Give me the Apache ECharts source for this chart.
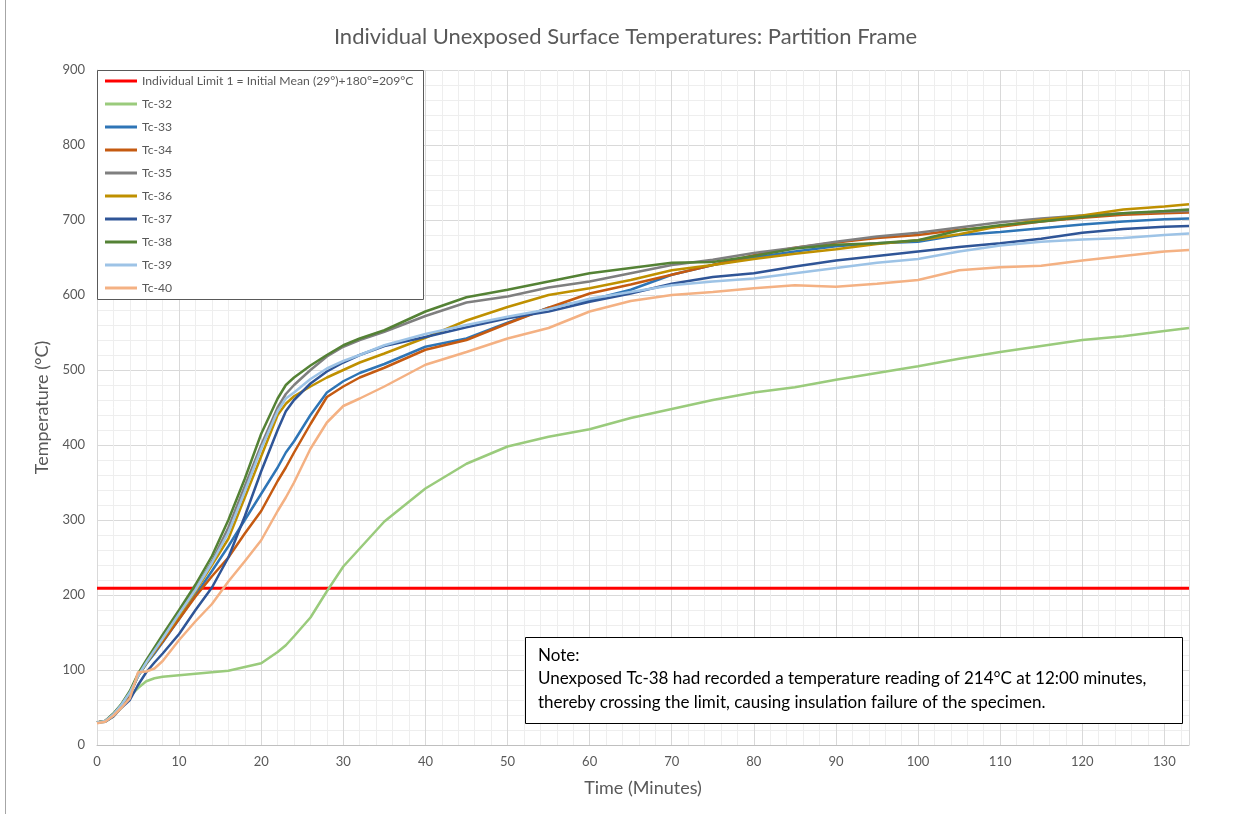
<!DOCTYPE html>
<html lang="en">
<head>
    <meta charset="UTF-8">
    <title>Individual Unexposed Surface Temperatures: Partition Frame</title>
    <script src="https://cdn.jsdelivr.net/npm/echarts@6/dist/echarts.min.js"></script>
    <style>
        html, body { margin: 0; padding: 0; background: #fff; }
        #main { width: 1251px; height: 814px; }
    </style>
</head>
<body>
<div id="main"></div>

<script>
    // time axis (minutes) shared by all thermocouples
    var times = [0, 1, 2, 3, 4, 5, 6, 7, 8, 10, 12, 14, 16, 18, 20, 22, 23, 24, 26, 28, 30, 32, 35,
        40, 45, 50, 55, 60, 65, 70, 75, 80, 85, 90, 95, 100, 105, 110, 115, 120, 125, 130, 133];

    // limit line
    var limitTimes = [0, 133];
    var limitValues = [209, 209];

    var tc32 = [30, 31, 38, 50, 65, 76, 85, 89, 91, 93, 95, 97, 99, 104, 109, 124, 133, 145, 170, 205, 238, 262, 298,
        342, 375, 398, 411, 421, 436, 448, 460, 470, 477, 487, 496, 505, 515, 524, 532, 540, 545, 552, 556];
    var tc33 = [30, 32, 40, 52, 67, 92, 108, 122, 137, 168, 200, 232, 265, 300, 335, 370, 390, 405, 440, 470, 485, 496, 508,
        531, 542, 563, 583, 593, 607, 627, 640, 650, 658, 665, 669, 671, 680, 684, 689, 694, 698, 701, 702];
    var tc34 = [30, 32, 41, 53, 68, 93, 110, 124, 138, 168, 198, 225, 250, 282, 312, 352, 370, 390, 428, 464, 478, 490, 503,
        527, 540, 562, 583, 602, 614, 627, 640, 653, 663, 670, 676, 680, 687, 691, 698, 703, 707, 709, 710];
    var tc35 = [30, 32, 41, 54, 70, 92, 110, 127, 143, 176, 208, 245, 290, 345, 400, 450, 468, 480, 500, 518, 531, 540, 551,
        572, 590, 598, 610, 618, 629, 640, 647, 656, 663, 671, 678, 683, 690, 697, 702, 706, 709, 711, 712];
    var tc36 = [30, 32, 41, 54, 70, 92, 109, 125, 141, 173, 205, 240, 275, 330, 385, 440, 455, 465, 478, 490, 500, 510, 522,
        543, 566, 584, 600, 609, 620, 633, 640, 648, 655, 661, 668, 673, 681, 692, 700, 706, 714, 718, 721];
    var tc37 = [30, 31, 38, 50, 60, 80, 97, 110, 122, 148, 180, 210, 250, 305, 365, 420, 445, 460, 482, 498, 510, 520, 532,
        544, 557, 569, 578, 591, 602, 615, 624, 629, 638, 646, 652, 658, 664, 669, 675, 683, 688, 691, 692];
    var tc38 = [30, 32, 42, 55, 72, 95, 113, 130, 147, 180, 214, 252, 300, 355, 415, 462, 480, 490, 506, 520, 533, 542, 553,
        578, 597, 607, 618, 629, 636, 643, 644, 652, 662, 667, 669, 673, 686, 693, 698, 704, 709, 712, 714];
    var tc39 = [30, 32, 41, 54, 70, 92, 110, 126, 142, 175, 207, 243, 283, 338, 395, 445, 462, 470, 488, 502, 512, 520, 533,
        548, 560, 571, 581, 595, 604, 613, 618, 622, 629, 636, 643, 648, 658, 666, 671, 674, 676, 680, 682];
    var tc40 = [29, 31, 39, 50, 62, 97, 98, 102, 112, 140, 165, 188, 218, 245, 273, 312, 330, 350, 395, 430, 452, 462, 478,
        507, 524, 542, 556, 578, 592, 600, 604, 609, 613, 611, 615, 620, 633, 637, 639, 646, 652, 658, 660];

    var limitName = 'Individual Limit 1 = Initial Mean (29°)+180°=209°C';
    var names = ['Tc-32', 'Tc-33', 'Tc-34', 'Tc-35', 'Tc-36', 'Tc-37', 'Tc-38', 'Tc-39', 'Tc-40'];
    var values = [tc32, tc33, tc34, tc35, tc36, tc37, tc38, tc39, tc40];
    var colors = ['#9ACB7C', '#2E75B6', '#C55A11', '#7F7F7F', '#BF9000', '#2F5597', '#548235', '#9DC3E6', '#F4B183'];

    function pairs(xs, ys) {
        var out = [];
        for (var i = 0; i < xs.length; i++) out.push([xs[i], ys[i]]);
        return out;
    }

    var series = [{
        name: limitName,
        type: 'line',
        data: pairs(limitTimes, limitValues),
        showSymbol: false,
        color: '#FF0000',
        lineStyle: {width: 3, color: '#FF0000'}
    }];
    for (var i = 0; i < names.length; i++) {
        series.push({
            name: names[i],
            type: 'line',
            data: pairs(times, values[i]),
            showSymbol: false,
            color: colors[i],
            lineStyle: {width: 2.5, color: colors[i]}
        });
    }

    var font = 'Lato, "Open Sans", sans-serif';
    var grey = '#595959';
    var noteFont = '17px ' + font;

    var myChart = echarts.init(document.getElementById('main'));
    var option = {
        animation: false,
        textStyle: {fontFamily: font},
        title: {
            text: 'Individual Unexposed Surface Temperatures: Partition Frame',
            left: 'center',
            top: 21,
            textStyle: {fontSize: 22, fontWeight: 'normal', color: grey, fontFamily: font}
        },
        grid: {left: 97, right: 62, top: 70, bottom: 69},
        legend: {
            left: 97,
            top: 71,
            orient: 'vertical',
            padding: [3, 0, 0, 8],
            icon: 'rect',
            itemWidth: 32,
            itemHeight: 3,
            itemGap: 9,
            z: 10,
            textStyle: {fontSize: 12.2, lineHeight: 14, color: grey, fontFamily: font},
            data: [limitName].concat(names)
        },
        xAxis: {
            type: 'value',
            min: 0,
            max: 133,
            interval: 10,
            name: 'Time (Minutes)',
            nameLocation: 'middle',
            nameGap: 34,
            nameTextStyle: {fontSize: 18, color: grey},
            axisLine: {lineStyle: {color: '#BFBFBF'}},
            axisTick: {show: false},
            axisLabel: {
                color: grey, fontSize: 13, margin: 10,
                formatter: function (v) { return v % 10 === 0 ? v : ''; }
            },
            splitLine: {show: true, lineStyle: {color: '#D9D9D9'}},
            minorTick: {show: false, splitNumber: 5},
            minorSplitLine: {show: true, lineStyle: {color: '#EEEEEE'}}
        },
        yAxis: {
            type: 'value',
            min: 0,
            max: 900,
            interval: 100,
            name: 'Temperature (°C)',
            nameLocation: 'middle',
            nameGap: 36,
            nameTextStyle: {fontSize: 18, color: grey},
            axisLine: {show: true, lineStyle: {color: '#D9D9D9'}},
            axisTick: {show: false},
            axisLabel: {color: grey, fontSize: 13, margin: 12},
            splitLine: {show: true, lineStyle: {color: '#D9D9D9'}},
            minorTick: {show: false, splitNumber: 5},
            minorSplitLine: {show: true, lineStyle: {color: '#EEEEEE'}}
        },
        graphic: [
            {
                type: 'line', z: 0,
                shape: {x1: 5.5, y1: 0, x2: 5.5, y2: 814},
                style: {stroke: '#A6A6A6', lineWidth: 1}
            },
            {
                type: 'rect', z: 5,
                shape: {x: 97.5, y: 70.5, width: 326, height: 229},
                style: {fill: '#fff', stroke: grey, lineWidth: 1}
            },
            {
                type: 'rect', z: 20,
                shape: {x: 525.5, y: 637.5, width: 657, height: 86},
                style: {fill: '#fff', stroke: '#000', lineWidth: 1}
            },
            {
                type: 'text', z: 21, x: 538, y: 647,
                style: {text: 'Note:', font: noteFont, fill: '#000'}
            },
            {
                type: 'text', z: 21, x: 538, y: 670,
                style: {
                    text: 'Unexposed Tc-38 had recorded a temperature reading of 214°C at 12:00 minutes,',
                    font: noteFont, fill: '#000'
                }
            },
            {
                type: 'text', z: 21, x: 538, y: 694,
                style: {
                    text: 'thereby crossing the limit, causing insulation failure of the specimen.',
                    font: noteFont, fill: '#000'
                }
            }
        ],
        series: series
    };
    myChart.setOption(option);
</script>
</body>
</html>
